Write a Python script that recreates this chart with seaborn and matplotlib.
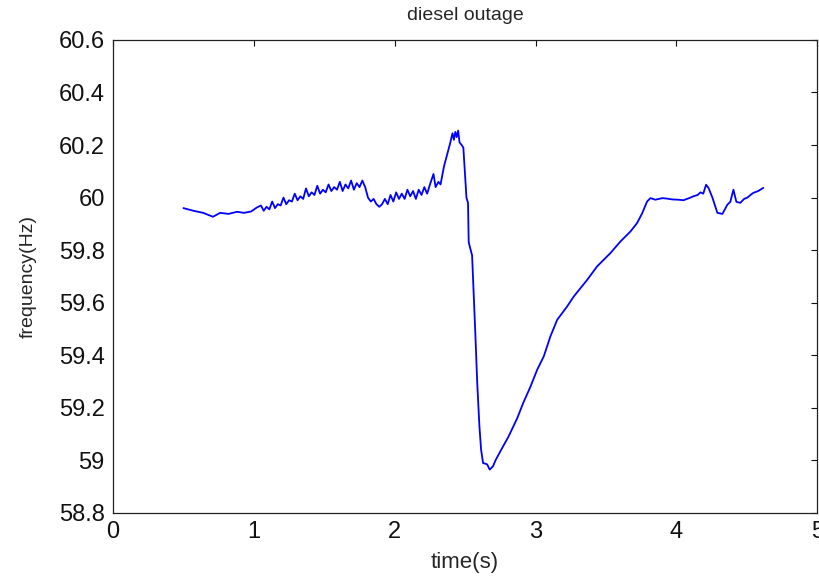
import numpy as np
import pandas as pd
import seaborn as sns
import matplotlib
matplotlib.use("Agg")
import matplotlib.pyplot as plt

# 数据
t_start = [0.50, 0.57, 0.64, 0.71, 0.76, 0.82, 0.88, 0.93, 0.98, 1.02]
f_start = [59.96, 59.95, 59.942, 59.927, 59.942, 59.938, 59.946, 59.942, 59.947, 59.962]

t_noise1 = [1.05, 1.07, 1.09, 1.11, 1.13, 1.15, 1.17, 1.19, 1.21, 1.23, 1.25, 1.27,
            1.29, 1.31, 1.33, 1.35, 1.37, 1.39, 1.41, 1.43, 1.45, 1.47, 1.49, 1.51,
            1.53, 1.55, 1.57, 1.59, 1.61, 1.63, 1.65, 1.67, 1.69, 1.71, 1.73, 1.75,
            1.77, 1.79, 1.81, 1.83, 1.85, 1.87, 1.89, 1.91, 1.93]
f_noise1 = [59.97, 59.95, 59.965, 59.955, 59.985, 59.96, 59.975, 59.97, 60.0, 59.975,
            59.99, 59.985, 60.015, 59.99, 60.005, 59.995, 60.035, 60.005, 60.02, 60.01,
            60.045, 60.015, 60.03, 60.02, 60.05, 60.025, 60.04, 60.03, 60.06, 60.025,
            60.05, 60.035, 60.065, 60.03, 60.055, 60.04, 60.065, 60.04, 60.0, 59.985,
            59.995, 59.975, 59.965, 59.975, 59.995]

t_noise2 = [1.95, 1.97, 1.99, 2.01, 2.03, 2.05, 2.07, 2.09, 2.11, 2.13, 2.15, 2.17,
            2.19, 2.21, 2.23, 2.25, 2.275, 2.29, 2.31, 2.325]
f_noise2 = [59.975, 60.01, 59.985, 60.02, 59.995, 60.015, 59.995, 60.03, 60.005, 60.025,
            59.995, 60.03, 60.01, 60.04, 60.015, 60.05, 60.09, 60.04, 60.06, 60.05]

# 尖峰与跌落
t_drop = [2.35, 2.37, 2.39, 2.41, 2.42, 2.43, 2.44, 2.45, 2.46, 2.475, 2.487,
          2.509, 2.52, 2.525, 2.549, 2.559, 2.573, 2.585, 2.601, 2.613, 2.627,
          2.656, 2.674, 2.698, 2.715]
f_drop = [60.12, 60.16, 60.2, 60.245, 60.22, 60.25, 60.23, 60.255, 60.21, 60.2, 60.19,
          60.0, 59.98, 59.83, 59.78, 59.65, 59.47, 59.30, 59.13, 59.04, 58.99,
          58.985, 58.965, 58.978, 59.0]

# 恢复
t_rec = [2.75, 2.807, 2.869, 2.913, 2.963, 3.011, 3.058, 3.105, 3.153, 3.224, 3.271,
         3.366, 3.436, 3.531, 3.602, 3.673, 3.72, 3.756, 3.791, 3.815, 3.85]
f_rec = [59.035, 59.09, 59.16, 59.22, 59.28, 59.345, 59.396, 59.472, 59.535, 59.586,
         59.624, 59.687, 59.738, 59.789, 59.833, 59.871, 59.903, 59.94, 59.985, 59.998,
         59.992]

t_end = [3.90, 3.935, 3.97, 4.013, 4.05, 4.099, 4.12, 4.15, 4.17, 4.19, 4.21, 4.227,
         4.255, 4.29, 4.326, 4.361, 4.382, 4.404, 4.425, 4.453, 4.48, 4.503, 4.525,
         4.545, 4.58, 4.616]
f_end = [59.998, 59.996, 59.993, 59.992, 59.99, 60.0, 60.005, 60.01, 60.02, 60.015,
         60.049, 60.037, 60.0, 59.942, 59.938, 59.973, 59.984, 60.03, 59.984, 59.98,
         59.995, 60.0, 60.01, 60.018, 60.025, 60.037]

t = t_start + t_noise1 + t_noise2 + t_drop + t_rec + t_end
f = f_start + f_noise1 + f_noise2 + f_drop + f_rec + f_end
df = pd.DataFrame({'time': t, 'freq': f})

# 绘制图表
sns.set_style("white")
plt.rcParams['font.family'] = ['Liberation Sans', 'DejaVu Sans']

fig = plt.figure(figsize=(8.2, 5.77), dpi=100)
ax = fig.add_axes([0.1378, 0.111, 0.859, 0.8198])
sns.lineplot(data=df, x='time', y='freq', color='#0000ff', linewidth=1.3,
             estimator=None, sort=False, ax=ax)

ax.set_xlim(0, 5)
ax.set_ylim(58.8, 60.6)
ax.set_xticks([0, 1, 2, 3, 4, 5])
ax.set_xticklabels(['0', '1', '2', '3', '4', '5'])
yt = [58.8, 59, 59.2, 59.4, 59.6, 59.8, 60, 60.2, 60.4, 60.6]
ax.set_yticks(yt)
ax.set_yticklabels(['58.8', '59', '59.2', '59.4', '59.6', '59.8', '60', '60.2', '60.4', '60.6'])
ax.tick_params(direction='in', length=4, width=0.8, labelsize=17, colors='#111111',
               top=True, right=True, pad=6)
for s in ax.spines.values():
    s.set_color('#222222')
    s.set_linewidth(0.9)

ax.set_title('diesel outage', fontsize=14, pad=14)
ax.set_xlabel('time(s)', fontsize=16, labelpad=6)
ax.set_ylabel('frequency(Hz)', fontsize=14, labelpad=16)

plt.savefig('out.png', dpi=100)
